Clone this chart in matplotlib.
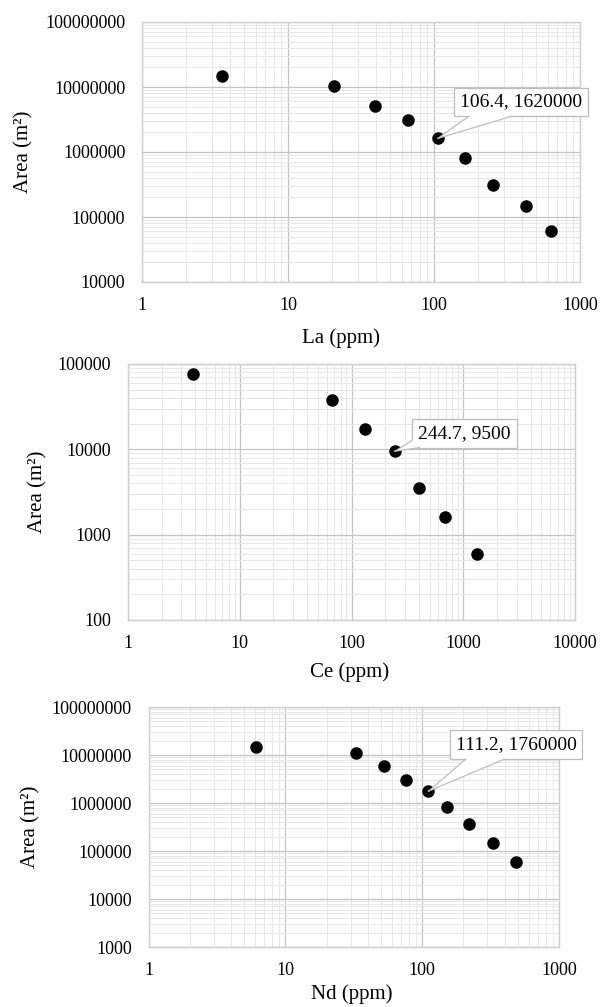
import matplotlib
matplotlib.use("Agg")
import matplotlib.pyplot as plt
from matplotlib.ticker import LogLocator, FixedLocator, FixedFormatter, NullFormatter
from matplotlib.patches import Polygon
from matplotlib.lines import Line2D
from matplotlib.transforms import IdentityTransform

plt.rcParams['font.family'] = ['Liberation Serif', 'DejaVu Serif']

# ---- data ----
la_ppm = [3.55, 20.8, 39.3, 66.5, 106.4, 163, 255, 425, 630]
la_area = [1.46e7, 1.05e7, 5.1e6, 3.07e6, 1.62e6, 8.2e5, 3.1e5, 1.5e5, 6.1e4]

ce_ppm = [3.85, 66.9, 132, 244.7, 404, 683, 1318]
ce_area = [7.57e4, 3.75e4, 1.75e4, 9500, 3570, 1590, 595]

nd_ppm = [6.06, 32.8, 52.2, 76.8, 111.2, 151, 221, 329, 486]
nd_area = [1.46e7, 1.12e7, 6.0e6, 3.06e6, 1.76e6, 8.1e5, 3.6e5, 1.46e5, 5.9e4]

panels = [
    dict(x=la_ppm, y=la_area, xlabel='La (ppm)', xlim=(1, 1000), ylim=(1e4, 1e8),
         xt=[1, 10, 100, 1000], yt=[1e4, 1e5, 1e6, 1e7, 1e8],
         ann=(106.4, 1620000), box=(394, 5.9e6), rect=(142, 22, 580, 282), ylx=24,
         xlx=341, xly=338, att=((0.11, 0.0), (0.43, 0.0))),
    dict(x=ce_ppm, y=ce_area, xlabel='Ce (ppm)', xlim=(1, 10000), ylim=(100, 1e5),
         xt=[1, 10, 100, 1000, 10000], yt=[100, 1000, 1e4, 1e5],
         ann=(244.7, 9500), box=(1026, 1.545e4), rect=(128, 364, 575, 620), ylx=38,
         xlx=350, xly=672, att=((0.0, 0.25), (0.07, 0.0))),
    dict(x=nd_ppm, y=nd_area, xlabel='Nd (ppm)', xlim=(1, 1000), ylim=(1e3, 1e8),
         xt=[1, 10, 100, 1000], yt=[1e3, 1e4, 1e5, 1e6, 1e7, 1e8],
         ann=(111.2, 1760000), box=(486, 1.63e7), rect=(148.5, 707, 559, 947), ylx=31,
         xlx=352, xly=994, att=((0.12, 0.0), (0.41, 0.0))),
]

W, H = 603, 1007
fig = plt.figure(figsize=(W / 100, H / 100), dpi=100)

EDGE = '#bdbdbd'
callouts = []
for p in panels:
    l, t, r, b = p['rect']
    ax = fig.add_axes([l / W, 1 - b / H, (r - l) / W, (b - t) / H])
    ax.set_xscale('log')
    ax.set_yscale('log')
    ax.set_xlim(*p['xlim'])
    ax.set_ylim(*p['ylim'])
    ax.xaxis.set_major_locator(FixedLocator(p['xt']))
    ax.xaxis.set_major_formatter(FixedFormatter([str(int(v)) for v in p['xt']]))
    ax.yaxis.set_major_locator(FixedLocator(p['yt']))
    ax.yaxis.set_major_formatter(FixedFormatter([str(int(v)) for v in p['yt']]))
    ax.xaxis.set_minor_locator(LogLocator(base=10, subs=range(2, 10), numticks=20))
    ax.yaxis.set_minor_locator(LogLocator(base=10, subs=range(2, 10), numticks=20))
    ax.xaxis.set_minor_formatter(NullFormatter())
    ax.yaxis.set_minor_formatter(NullFormatter())
    ax.grid(which='major', color='#c4c4c4', linewidth=0.9)
    ax.grid(which='minor', color='#e7e7e7', linewidth=0.7)
    ax.set_axisbelow(True)
    for s in ax.spines.values():
        s.set_color('#cfcfcf')
        s.set_linewidth(1.0)
    ax.tick_params(which='both', length=0)
    ax.tick_params(axis='x', pad=11, labelsize=13)
    ax.tick_params(axis='y', pad=12, labelsize=13)

    ax.scatter(p['x'], p['y'], s=64, color='black', zorder=3)

    txt = ax.text(p['box'][0], p['box'][1], f"{p['ann'][0]}, {p['ann'][1]}",
                  ha='center', va='center', fontsize=14, zorder=5, clip_on=False,
                  bbox=dict(boxstyle='square,pad=0.3', fc='white', ec=EDGE, lw=0.9))
    callouts.append((ax, txt, p))

    fig.text(p['xlx'] / W, 1 - p['xly'] / H, p['xlabel'], ha='center', va='center', fontsize=15)
    fig.text(p['ylx'] / W, 1 - ((t + b) / 2) / H, 'Area (m²)', rotation=90,
             ha='center', va='center', fontsize=15)

fig.canvas.draw()
renderer = fig.canvas.get_renderer()
for ax, txt, p in callouts:
    ext = txt.get_bbox_patch().get_window_extent(renderer)
    px, py = ax.transData.transform(p['ann'])
    (f1x, f1y), (f2x, f2y) = p['att']
    A = (ext.x0 + f1x * ext.width, ext.y0 + f1y * ext.height)
    B = (ext.x0 + f2x * ext.width, ext.y0 + f2y * ext.height)
    cx, cy = ext.x0 + ext.width / 2, ext.y0 + ext.height / 2
    Ai = (A[0] + (cx - A[0]) * 0.08, A[1] + (cy - A[1]) * 0.15)
    Bi = (B[0] + (cx - B[0]) * 0.08, B[1] + (cy - B[1]) * 0.15)
    poly = Polygon([Ai, A, (px, py), B, Bi], closed=True, fc='white', ec='none',
                   transform=IdentityTransform(), zorder=6, clip_on=False)
    fig.add_artist(poly)
    for Q in (A, B):
        fig.add_artist(Line2D([Q[0], px], [Q[1], py], color=EDGE, lw=0.9,
                              transform=IdentityTransform(), zorder=6.1))

fig.savefig('out.png', dpi=100)
